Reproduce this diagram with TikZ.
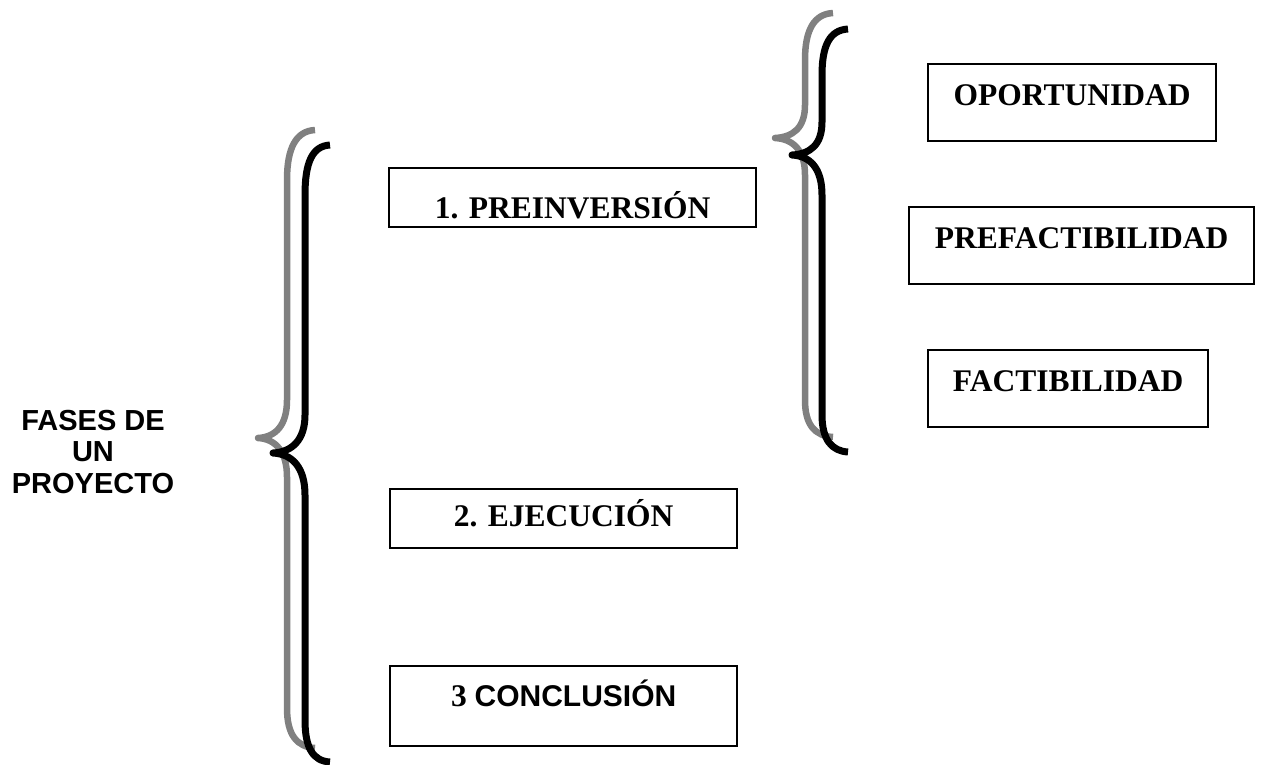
\documentclass[tikz,border=0pt]{standalone}
\usepackage{fontspec}
\setmainfont{Liberation Serif}
\newfontfamily\arialfont{Liberation Sans}
\definecolor{bracegray}{RGB}{128,128,128}
\tikzset{
  phasebox/.style={draw=black, line width=2.3pt, inner sep=0pt, anchor=north west,
    font=\fontsize{31.5}{36}\selectfont\bfseries},
  graybrace/.style={draw=bracegray, line width=6.5pt, line join=round, line cap=butt},
  blackbrace/.style={draw=black, line width=7pt, line join=round, line cap=butt},
}
\begin{document}
\begin{tikzpicture}[x=1pt,y=-1pt]
\useasboundingbox (0,0) rectangle (1261,764);
% title
\node[font=\arialfont\fontsize{29}{31.5}\selectfont\bfseries, align=center] (title) at (93,452)
  {FASES DE\\UN\\PROYECTO};
% big brace
\draw[graybrace] (315,130) .. controls (296,131) and (287,148) .. (287,180) -- (287,400)
  .. controls (287,425) and (276,437) .. (258,438)
  .. controls (276,439) and (287,452) .. (287,477) -- (287,708)
  .. controls (287,735) and (297,747) .. (315,748);
\draw[blackbrace] (330,145) .. controls (312,146) and (305,163) .. (305,195) -- (305,415)
  .. controls (305,440) and (292,452) .. (273,453)
  .. controls (292,454) and (305,467) .. (305,495) -- (305,720)
  .. controls (305,748) and (313,761) .. (330,762);
% right brace
\draw[graybrace] (833,13) .. controls (814,14) and (805,30) .. (805,60) -- (805,105)
  .. controls (805,128) and (793,137) .. (775,138)
  .. controls (793,139) and (805,150) .. (805,175) -- (805,400)
  .. controls (805,425) and (815,436) .. (833,437);
\draw[blackbrace] (848,29) .. controls (830,30) and (822,45) .. (822,75) -- (822,122)
  .. controls (822,145) and (810,154) .. (792,155)
  .. controls (810,156) and (822,168) .. (822,195) -- (822,415)
  .. controls (822,440) and (832,451) .. (848,452);
% phase boxes
\node[phasebox, minimum width=367pt, text height=50pt, text depth=9pt] (pre) at (388,167) {1. PREINVERSIÓN};
\node[phasebox, minimum width=347pt, text height=37pt, text depth=22pt] (eje) at (389,488) {2. EJECUCIÓN};
\node[phasebox, minimum width=347pt, text height=40pt, text depth=40pt] (con) at (389,665)
  {3 {\arialfont\fontsize{30}{36}\selectfont\bfseries CONCLUSIÓN}};
% sub-phase boxes
\node[phasebox, minimum width=288pt, text height=41pt, text depth=36pt] (opo) at (927,63) {OPORTUNIDAD};
\node[phasebox, minimum width=345pt, text height=41pt, text depth=36pt] (pref) at (908,206) {PREFACTIBILIDAD};
\node[phasebox, minimum width=280pt, text height=41pt, text depth=36pt] (fac) at (927,349) {FACTIBILIDAD};
\end{tikzpicture}
\end{document}
